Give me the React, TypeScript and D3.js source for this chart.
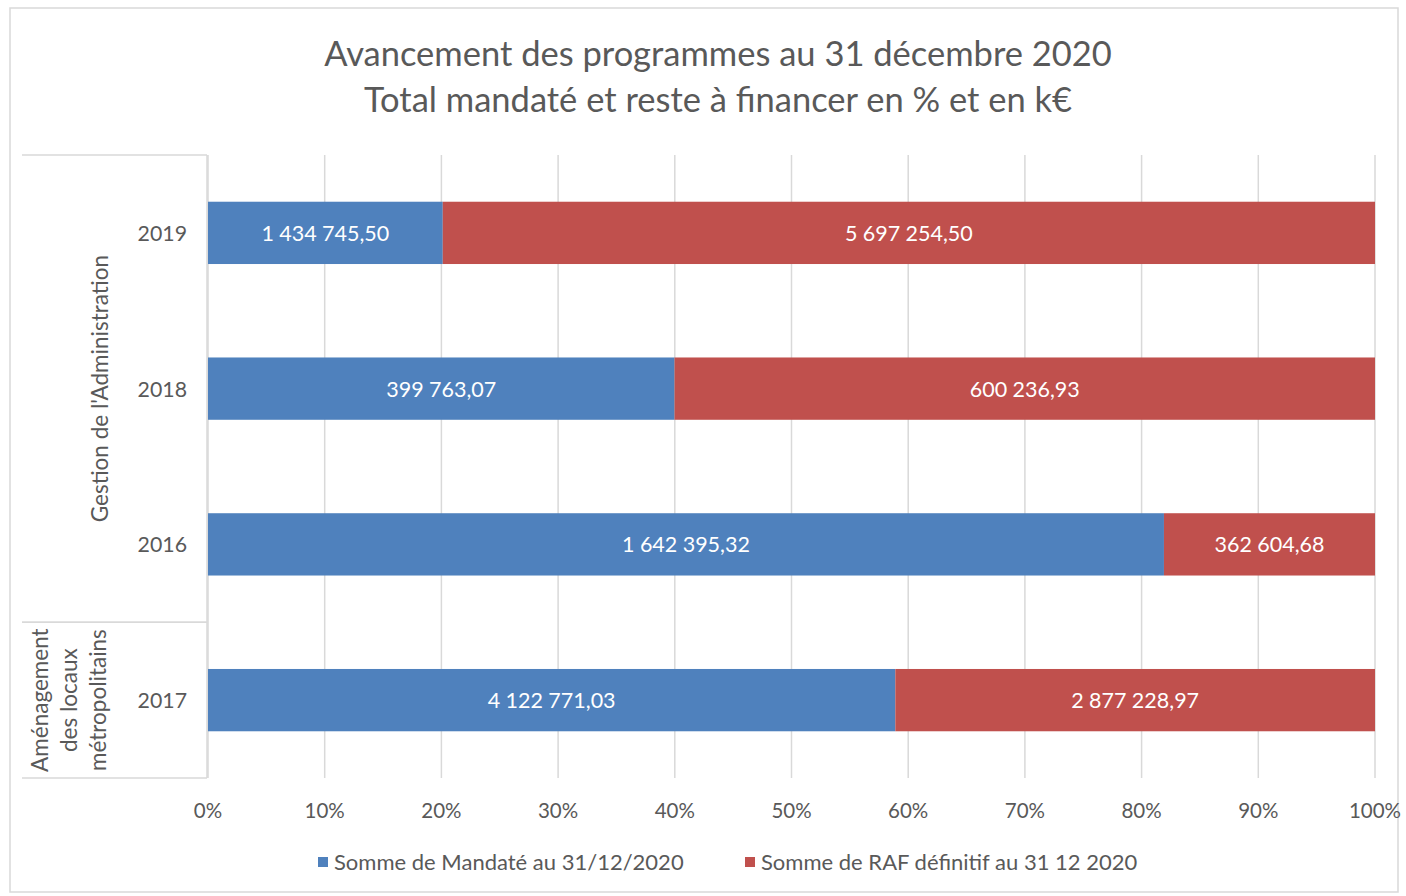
import React from "react";
import * as d3 from "d3";

const categories = ["2019", "2018", "2016", "2017"];
const groups = [
  { lines: ["Gestion de l'Administration"], members: ["2019", "2018", "2016"] },
  { lines: ["Aménagement", "des locaux", "métropolitains"], members: ["2017"] },
];
const mandate = [1434745.5, 399763.07, 1642395.32, 4122771.03];
const raf = [5697254.5, 600236.93, 362604.68, 2877228.97];
const seriesNames = ["Somme de Mandaté au 31/12/2020", "Somme de RAF définitif au 31 12 2020"];
const ticks = [0, 0.1, 0.2, 0.3, 0.4, 0.5, 0.6, 0.7, 0.8, 0.9, 1];
const titleLines = ["Avancement des programmes au 31 décembre 2020", "Total mandaté et reste à financer en % et en k€"];

const W = 1406, H = 896;
const FONT = "Lato, 'Open Sans', sans-serif";
const colors = ["#4F81BD", "#C0504D"];

function fmt(v: number) {
  const [i, d] = v.toFixed(2).split(".");
  const ii = i.replace(/\B(?=(\d{3})+(?!\d))/g, "\u202F");
  return ii + "," + d;
}

export default function App() {
  const x = d3.scaleLinear().domain([0, 1]).range([208, 1375]);
  const y = d3.scaleBand().domain(categories).range([155, 778]).paddingInner(0.6).paddingOuter(0.3);
  const rows = categories.map((c, i) => {
    const total = mandate[i] + raf[i];
    return { c, a: mandate[i], b: raf[i], pa: mandate[i] / total };
  });
  const bandStep = y.step();
  const groupBounds = groups.map((g) => {
    const ys = g.members.map((m) => y(m)!);
    const top = Math.min(...ys) - (bandStep - y.bandwidth()) / 2;
    const bottom = Math.max(...ys) + y.bandwidth() + (bandStep - y.bandwidth()) / 2;
    return { top, bottom };
  });
  return (
    <div style={{ position: "absolute", left: 0, top: 0 }}>
      <svg width={W} height={H} style={{ display: "block", background: "#fff" }}>
        <rect x={10} y={8} width={1388} height={884} fill="#fff" stroke="#d9d9d9" strokeWidth={1.5} />
        {titleLines.map((t, i) => (
          <text key={i} x={718} y={66 + i * 46} textAnchor="middle" fontFamily={FONT} fontSize={34.5} fill="#595959">
            {t}
          </text>
        ))}
        {ticks.map((t) => (
          <line key={t} x1={x(t)} x2={x(t)} y1={155} y2={778} stroke="#d9d9d9" strokeWidth={1.5} />
        ))}
        {ticks.map((t) => (
          <text key={"l" + t} x={x(t)} y={818} textAnchor="middle" fontFamily={FONT} fontSize={20.5} fill="#595959">
            {d3.format(".0%")(t)}
          </text>
        ))}
        <line x1={207} x2={207} y1={155} y2={778} stroke="#d9d9d9" strokeWidth={1.5} />
        {groupBounds.map((gb, i) => (
          <g key={i}>
            <line x1={22} x2={207} y1={gb.top} y2={gb.top} stroke="#d9d9d9" strokeWidth={1.5} />
            <line x1={22} x2={207} y1={gb.bottom} y2={gb.bottom} stroke="#d9d9d9" strokeWidth={1.5} />
          </g>
        ))}
        {groups.map((g, gi) => {
          const cy = (groupBounds[gi].top + groupBounds[gi].bottom) / 2;
          const n = g.lines.length;
          const cx = n === 1 ? 100 : 69;
          return (
            <text key={gi} transform={`translate(${cx},${cy}) rotate(-90)`} textAnchor="middle" fontFamily={FONT} fontSize={22.5} fill="#595959">
              {g.lines.map((l, li) => (
                <tspan key={li} x={0} y={(li - (n - 1) / 2) * 29 + 8}>
                  {l}
                </tspan>
              ))}
            </text>
          );
        })}
        {categories.map((c) => (
          <text key={c} x={187} y={y(c)! + y.bandwidth() / 2 + 8} textAnchor="end" fontFamily={FONT} fontSize={21.3} fill="#595959">
            {c}
          </text>
        ))}
        {rows.map((r) => {
          const yy = y(r.c)!;
          const h = y.bandwidth();
          return (
            <g key={r.c}>
              <rect x={x(0)} y={yy} width={x(r.pa) - x(0)} height={h} fill={colors[0]} />
              <rect x={x(r.pa)} y={yy} width={x(1) - x(r.pa)} height={h} fill={colors[1]} />
              <text x={(x(0) + x(r.pa)) / 2} y={yy + h / 2 + 8} textAnchor="middle" fontFamily={FONT} fontSize={21.5} fill="#fff">
                {fmt(r.a)}
              </text>
              <text x={(x(r.pa) + x(1)) / 2} y={yy + h / 2 + 8} textAnchor="middle" fontFamily={FONT} fontSize={21.5} fill="#fff">
                {fmt(r.b)}
              </text>
            </g>
          );
        })}
        {seriesNames.map((s, i) => {
          const lx = i === 0 ? 318 : 745;
          return (
            <g key={s}>
              <rect x={lx} y={857} width={10} height={10} fill={colors[i]} />
              <text x={lx + 16} y={870} fontFamily={FONT} fontSize={22} fill="#595959">
                {s}
              </text>
            </g>
          );
        })}
      </svg>
    </div>
  );
}
